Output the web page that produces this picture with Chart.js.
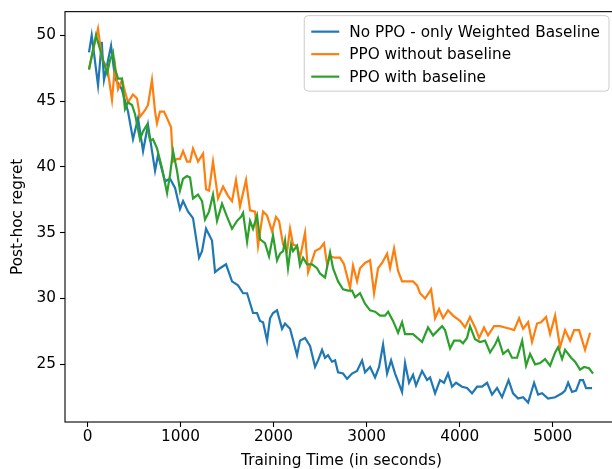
<!DOCTYPE html>
<html>
<head>
<meta charset="utf-8">
<script src="https://cdn.jsdelivr.net/npm/chart.js@4.4.1/dist/chart.umd.min.js"></script>
<style>
html, body { margin: 0; padding: 0; background: #fff; width: 612px; height: 469px; overflow: hidden; }
#wrap { width: 620px; height: 469px; }
</style>
</head>
<body>
<div id="wrap"><canvas id="chart" width="620" height="469"></canvas></div>
<script>
// [training time (s), post-hoc regret]
var noPpo = [[16,48.7],[45,50.0],[113,46.2],[153,49.5],[177,46.6],[253,49.2],[296,46.7],[368,45.9],[435,44.2],[489,42.1],[543,43.7],[597,41.2],[650,43.2],[726,39.7],[758,40.9],[833,38.9],[887,39.1],[941,38.4],[994,36.8],[1027,37.4],[1081,36.6],[1134,36.1],[1199,33.1],[1231,33.6],[1274,35.3],[1338,34.4],[1371,32.0],[1424,32.3],[1489,32.6],[1553,31.3],[1618,31.0],[1672,30.4],[1715,30.4],[1779,28.9],[1822,28.9],[1854,28.3],[1887,28.2],[1930,26.8],[1962,28.5],[1994,28.9],[2037,29.1],[2091,27.7],[2123,28.1],[2177,27.7],[2252,25.7],[2284,26.8],[2338,27.0],[2392,26.4],[2446,24.8],[2478,25.3],[2521,26.1],[2553,25.5],[2585,25.7],[2628,25.2],[2661,25.3],[2693,24.4],[2747,24.3],[2790,23.9],[2843,24.3],[2897,24.5],[2951,25.3],[2983,24.4],[3037,24.8],[3091,24.0],[3134,24.8],[3177,26.5],[3220,24.3],[3263,25.3],[3306,24.3],[3381,22.9],[3413,25.1],[3456,23.6],[3499,24.2],[3531,23.4],[3596,24.5],[3650,23.8],[3682,24.0],[3736,22.8],[3789,23.8],[3832,23.6],[3875,24.3],[3918,23.3],[3961,23.6],[4026,23.3],[4079,23.2],[4133,22.8],[4187,23.3],[4241,23.3],[4295,23.6],[4348,22.7],[4402,23.2],[4456,22.5],[4526,23.8],[4574,22.8],[4628,22.4],[4682,22.5],[4736,22.1],[4800,23.6],[4843,22.7],[4886,22.8],[4950,22.4],[5026,22.5],[5101,22.8],[5133,23.0],[5166,23.6],[5208,22.9],[5251,23.0],[5294,23.8],[5326,23.8],[5359,23.2],[5423,23.2]];

var ppoNoBaseline = [[16,47.4],[48,48.5],[81,49.5],[113,50.5],[156,48.2],[188,47.8],[220,47.2],[263,45.1],[296,47.7],[328,45.9],[371,46.6],[403,45.7],[435,44.9],[489,45.5],[532,45.2],[564,43.8],[618,44.3],[650,44.7],[693,46.6],[726,44.2],[747,43.3],[779,44.2],[822,44.2],[855,43.7],[898,43.0],[919,40.4],[962,40.6],[994,40.6],[1027,41.2],[1070,40.4],[1102,40.4],[1134,41.4],[1188,40.4],[1242,41.0],[1274,38.3],[1306,38.2],[1349,40.4],[1403,37.6],[1457,38.5],[1510,37.8],[1553,37.4],[1596,39.0],[1639,37.0],[1704,39.0],[1747,36.7],[1801,36.6],[1833,34.0],[1887,36.6],[1930,36.3],[1983,35.1],[2026,36.2],[2059,35.9],[2102,34.1],[2145,33.6],[2177,35.3],[2209,34.1],[2252,34.0],[2284,33.1],[2338,35.0],[2371,32.0],[2414,32.9],[2446,33.6],[2499,33.8],[2542,34.2],[2575,32.6],[2607,33.2],[2661,33.1],[2714,33.1],[2757,32.6],[2822,30.8],[2854,32.5],[2897,31.3],[2929,32.3],[2983,32.7],[3037,32.9],[3080,30.4],[3123,32.3],[3166,32.7],[3220,33.4],[3252,32.3],[3295,33.8],[3338,32.1],[3381,31.3],[3434,31.3],[3499,31.3],[3542,31.0],[3574,30.4],[3628,30.0],[3693,30.7],[3736,28.5],[3779,29.2],[3822,28.5],[3875,29.1],[3929,28.7],[4004,28.3],[4058,27.8],[4111,28.6],[4166,27.8],[4209,27.0],[4262,27.8],[4305,27.2],[4370,27.9],[4434,27.9],[4488,27.8],[4542,27.7],[4585,27.6],[4639,28.5],[4682,27.7],[4736,28.2],[4778,26.7],[4832,28.1],[4875,28.2],[4929,28.6],[4972,27.3],[5026,28.7],[5079,26.3],[5133,27.6],[5187,26.8],[5230,27.6],[5284,27.6],[5348,26.1],[5402,27.4]];

var ppoBaseline = [[16,47.4],[48,48.5],[91,50.0],[124,49.2],[167,48.1],[210,47.1],[242,48.1],[274,48.7],[296,47.4],[328,46.7],[371,46.7],[403,44.4],[435,44.9],[478,44.7],[511,44.0],[564,42.1],[597,42.7],[640,43.2],[672,42.0],[704,42.1],[747,41.4],[801,39.9],[855,38.0],[887,39.4],[919,41.2],[962,39.7],[994,38.2],[1027,39.1],[1070,39.3],[1102,39.2],[1134,37.6],[1188,37.9],[1231,37.4],[1263,36.0],[1306,36.6],[1349,37.9],[1392,35.9],[1446,37.2],[1500,36.2],[1553,35.3],[1607,35.9],[1650,36.2],[1672,36.5],[1715,34.3],[1747,35.9],[1779,35.3],[1822,36.3],[1854,34.5],[1908,34.2],[1951,33.2],[1994,34.8],[2037,32.9],[2069,33.4],[2102,33.6],[2123,34.4],[2155,32.3],[2188,34.1],[2209,33.6],[2252,34.0],[2284,32.5],[2317,33.1],[2360,32.6],[2414,32.6],[2467,32.3],[2499,31.9],[2553,31.6],[2607,33.5],[2639,32.3],[2693,31.3],[2747,30.7],[2800,30.6],[2843,30.6],[2876,30.1],[2929,30.4],[2983,29.6],[3037,29.1],[3091,29.0],[3145,28.7],[3198,28.7],[3231,29.0],[3284,28.3],[3338,27.4],[3381,28.2],[3413,27.3],[3499,27.3],[3596,26.7],[3660,27.8],[3714,27.2],[3811,27.9],[3843,27.6],[3897,26.2],[3940,26.8],[4004,26.8],[4036,26.6],[4079,27.0],[4111,27.9],[4166,26.9],[4219,26.7],[4273,26.8],[4327,25.9],[4381,26.5],[4413,27.0],[4467,25.8],[4520,26.1],[4563,25.5],[4617,25.5],[4672,26.8],[4714,24.9],[4757,25.8],[4811,25.0],[4864,25.1],[4918,25.4],[4972,24.9],[5026,25.9],[5058,26.3],[5101,25.4],[5133,26.1],[5198,25.5],[5241,25.2],[5294,24.6],[5337,24.8],[5391,24.7],[5434,24.3]];

var seriesNames = ["No PPO - only Weighted Baseline", "PPO without baseline", "PPO with baseline"];
var xTicks = [0, 1000, 2000, 3000, 4000, 5000];
var yTicks = [25, 30, 35, 40, 45, 50];

var FONT = "DejaVu Sans";
var FS = 15.3;

function pts(a) { return a.map(function (p) { return {x: p[0], y: p[1]}; }); }

// axes frame on all four sides, like matplotlib spines
var frame = {
	id: 'frame',
	afterDatasetsDraw: function (chart) {
		var a = chart.chartArea, ctx = chart.ctx;
		ctx.save();
		ctx.strokeStyle = '#000';
		ctx.lineWidth = 1.1;
		ctx.strokeRect(a.left, a.top, a.right - a.left, a.bottom - a.top);
		ctx.restore();
	}
};

// legend box in the upper right corner of the plot
var cornerLegend = {
	id: 'cornerLegend',
	afterDraw: function (chart) {
		var a = chart.chartArea, ctx = chart.ctx;
		var ds = chart.data.datasets;
		ctx.save();
		ctx.font = FS + 'px "' + FONT + '"';
		var tw = 0;
		ds.forEach(function (d) { tw = Math.max(tw, ctx.measureText(d.label).width); });
		var pad = 7, handle = 28, gap = 10, rowH = 22.5;
		var w = pad + handle + gap + tw + 9;
		var h = ds.length * rowH + 8;
		var right = a.right - 9, top = a.top + 4;
		var left = right - w;
		ctx.beginPath();
		ctx.roundRect(left, top, w, h, 4);
		ctx.fillStyle = 'rgba(255,255,255,0.8)';
		ctx.fill();
		ctx.strokeStyle = '#cccccc';
		ctx.lineWidth = 1;
		ctx.stroke();
		ds.forEach(function (d, i) {
			var y = top + 16 + i * rowH;
			ctx.beginPath();
			ctx.moveTo(left + pad, y);
			ctx.lineTo(left + pad + handle, y);
			ctx.strokeStyle = d.borderColor;
			ctx.lineWidth = 2.2;
			ctx.stroke();
			ctx.fillStyle = '#000';
			ctx.textBaseline = 'middle';
			ctx.fillText(d.label, left + pad + handle + gap, y + 1);
		});
		ctx.restore();
	}
};

new Chart(document.getElementById('chart'), {
	type: 'line',
	data: {
		datasets: [
			{label: seriesNames[0], data: pts(noPpo), borderColor: '#1f77b4', order: 2},
			{label: seriesNames[1], data: pts(ppoNoBaseline), borderColor: '#ff7f0e', order: 1},
			{label: seriesNames[2], data: pts(ppoBaseline), borderColor: '#2ca02c', order: 0}
		]
	},
	options: {
		responsive: false,
		animation: false,
		events: [],
		elements: {
			line: {borderWidth: 2.2, tension: 0, fill: false},
			point: {radius: 0}
		},
		layout: {padding: {top: 9, right: 2, left: 0, bottom: 0}},
		plugins: {legend: {display: false}, tooltip: {enabled: false}},
		scales: {
			x: {
				type: 'linear',
				min: -242,
				max: 5702,
				afterFit: function (s) { s.height = 47; },
				afterBuildTicks: function (s) { s.ticks = xTicks.map(function (v) { return {value: v}; }); },
				grid: {drawOnChartArea: false, drawTicks: true, tickLength: 5, tickColor: '#000', tickWidth: 1.1},
				border: {display: false},
				ticks: {color: '#000', padding: 2, font: {family: FONT, size: FS, lineHeight: 1},
					callback: function (v) { return String(v); }},
				title: {display: true, text: 'Training Time (in seconds)', color: '#000',
					font: {family: FONT, size: FS, lineHeight: 1}, padding: {top: 0, bottom: 0}}
			},
			y: {
				min: 20.62,
				max: 51.79,
				afterFit: function (s) { s.width = 65; },
				afterBuildTicks: function (s) { s.ticks = yTicks.map(function (v) { return {value: v}; }); },
				grid: {drawOnChartArea: false, drawTicks: true, tickLength: 5, tickColor: '#000', tickWidth: 1.1},
				border: {display: false},
				ticks: {color: '#000', padding: 4, font: {family: FONT, size: FS, lineHeight: 1},
					callback: function (v) { return String(v); }},
				title: {display: true, text: 'Post-hoc regret', color: '#000',
					font: {family: FONT, size: FS, lineHeight: 1}, padding: {top: 10, bottom: 0}}
			}
		}
	},
	plugins: [frame, cornerLegend]
});
</script>
</body>
</html>
